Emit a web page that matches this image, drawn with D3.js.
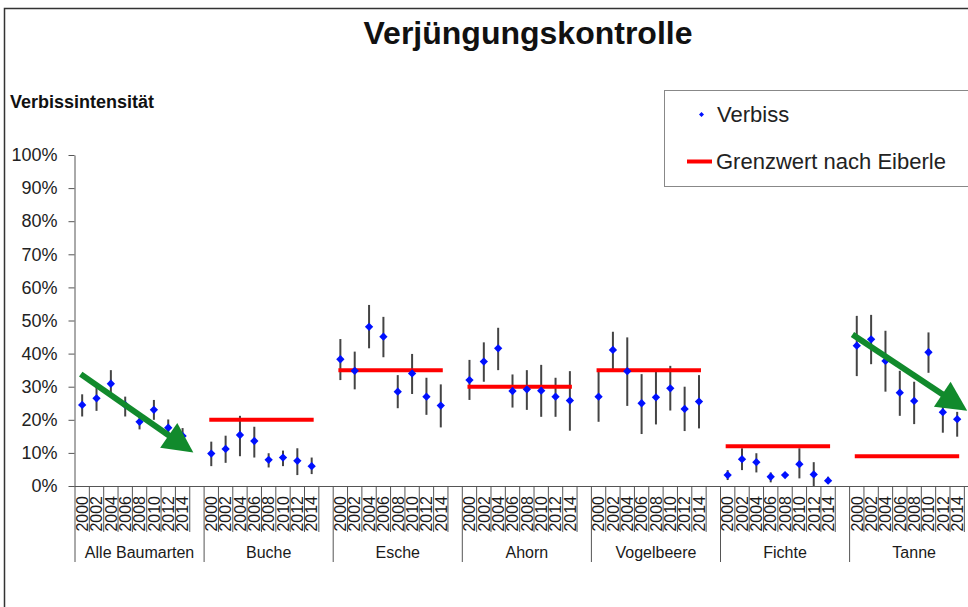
<!DOCTYPE html>
<html>
<head>
<meta charset="utf-8">
<script src="https://cdn.jsdelivr.net/npm/d3@7"></script>
<style>
  body { margin: 0; background: #fff; }
  svg { display: block; font-family: "Liberation Sans", Arial, sans-serif; }
</style>
</head>
<body>
<div id="chart-container"></div>
<script>
// Baumarten und Aufnahmejahre
const groups = ["Alle Baumarten", "Buche", "Esche", "Ahorn", "Vogelbeere", "Fichte", "Tanne"];
const years = ["2000", "2002", "2004", "2006", "2008", "2010", "2012", "2014"];

// Verbissprozent je Baumart (Mittelwert, obere / untere Grenze)
const verbiss = [
  [24.5, 26.5, 30.9, 24.5, 19.4, 23.0, 17.6, 15.1],
  [9.8, 11.2, 15.4, 13.6, 7.9, 8.6, 7.6, 6.0],
  [38.3, 34.8, 48.1, 45.1, 28.5, 34.0, 27.0, 24.3],
  [32.0, 37.6, 41.6, 28.7, 29.2, 28.8, 27.0, 25.8],
  [27.0, 41.1, 34.7, 25.0, 26.8, 29.5, 23.3, 25.5],
  [3.3, 8.1, 7.2, 2.8, 3.3, 6.6, 3.5, 1.6],
  [42.4, 44.3, 37.8, 28.2, 25.7, 40.4, 22.3, 20.2]
];
const upper = [
  [27.7, 30.0, 35.0, 27.0, 21.4, 26.0, 20.1, 17.5],
  [13.4, 15.2, 21.2, 17.9, 9.9, 10.7, 11.4, 8.6],
  [44.4, 40.6, 54.7, 51.1, 33.5, 39.9, 32.7, 30.7],
  [38.1, 43.4, 47.8, 33.7, 35.0, 36.6, 32.7, 34.7],
  [34.8, 46.6, 44.9, 33.8, 34.5, 36.3, 30.0, 33.5],
  [4.8, 11.4, 9.9, 4.1, 4.0, 11.4, 7.2, 2.8],
  [51.4, 51.7, 46.9, 34.8, 31.5, 46.4, 28.5, 22.4]
];
const lower = [
  [21.0, 22.7, 28.0, 21.0, 17.1, 20.0, 15.4, 13.3],
  [6.0, 7.0, 9.0, 8.6, 5.6, 6.0, 3.3, 3.6],
  [32.0, 29.2, 41.6, 38.9, 23.5, 27.8, 21.5, 17.7],
  [26.0, 31.5, 35.0, 23.7, 23.0, 20.9, 20.9, 16.7],
  [19.4, 35.0, 24.2, 15.7, 18.6, 22.8, 16.6, 17.4],
  [1.8, 4.8, 4.1, 1.1, 2.6, 2.3, 0.0, 0.6],
  [33.2, 36.8, 28.5, 21.2, 18.7, 34.2, 16.1, 14.9]
];
// Grenzwert nach Eiberle (keiner fuer "Alle Baumarten")
const grenzwert = [null, 20, 35, 30, 35, 12, 9];

const yTicks = [0, 10, 20, 30, 40, 50, 60, 70, 80, 90, 100];

// Trendpfeile: Baumart, Start/Ende als [Position im Jahresraster, Prozent]
const trendArrows = [
  { group: "Alle Baumarten", from: [-0.1, 33.8], to: [7.75, 10.1] },
  { group: "Tanne", from: [-0.3, 45.8], to: [7.7, 22.7] }
];

const W = 968, H = 607;
const svg = d3.select("#chart-container").append("svg").attr("width", W).attr("height", H);

// Rahmen (rechts und unten abgeschnitten)
svg.append("path").attr("d", "M4.5,607V8.5H968").attr("fill", "none")
  .attr("stroke", "#333").attr("stroke-width", 1.5);

const slotCount = years.length + 1;
const xGroup = d3.scaleBand().domain(groups).range([75, 75 + groups.length * 129.1]);
const xSlot = d3.scaleLinear().domain([0, slotCount]).range([0, xGroup.bandwidth()]);
const slotW = xSlot(1) - xSlot(0);
const xPos = (g, i) => xGroup(g) + xSlot(i) + slotW / 2;
const y = d3.scaleLinear().domain([0, 100]).range([486, 155]);

// Titel
svg.append("text").attr("x", 528).attr("y", 44).attr("text-anchor", "middle")
  .attr("font-size", 32).attr("font-weight", "bold").attr("fill", "#111")
  .text("Verjüngungskontrolle");
svg.append("text").attr("x", 10).attr("y", 108)
  .attr("font-size", 18).attr("font-weight", "bold").attr("fill", "#111")
  .text("Verbissintensität");

// y-Achse
const yAxis = svg.append("g").attr("transform", "translate(74.5,0)")
  .call(d3.axisLeft(y).tickValues(yTicks).tickFormat(d => d + "%")
    .tickSize(6).tickSizeOuter(0).tickPadding(11));
yAxis.select(".domain").attr("stroke", "#555");
yAxis.selectAll(".tick line").attr("stroke", "#555");
yAxis.selectAll(".tick text").attr("font-size", 18).attr("fill", "#222")
  .attr("font-family", "Liberation Sans, Arial, sans-serif");

// x-Achse mit Kategorien
const xAxis = svg.append("g").attr("stroke", "#555").attr("stroke-width", 1);
xAxis.append("line").attr("x1", 74.5).attr("x2", W).attr("y1", 486.5).attr("y2", 486.5);
groups.forEach(g => {
  xAxis.append("line").attr("x1", xGroup(g)).attr("x2", xGroup(g))
    .attr("y1", 486).attr("y2", 562);
  d3.range(1, slotCount).forEach(i => {
    const xx = xGroup(g) + xSlot(i);
    xAxis.append("line").attr("x1", xx).attr("x2", xx).attr("y1", 486).attr("y2", 532);
  });
});
xAxis.append("line").attr("x1", xGroup.range()[1]).attr("x2", xGroup.range()[1])
  .attr("y1", 486).attr("y2", 562);

const labels = svg.append("g").attr("fill", "#1a1a1a");
groups.forEach(g => {
  years.forEach((yr, i) => {
    labels.append("text")
      .attr("transform", `translate(${xPos(g, i)},496) rotate(-90)`)
      .attr("text-anchor", "end").attr("dy", "0.36em")
      .attr("font-size", 16).text(yr);
  });
  labels.append("text").attr("x", xGroup(g) + xGroup.bandwidth() / 2).attr("y", 558)
    .attr("text-anchor", "middle").attr("font-size", 16).text(g);
});

// Fehlerbalken
const bars = svg.append("g").attr("stroke", "#444").attr("stroke-width", 2);
groups.forEach((g, gi) => {
  years.forEach((yr, i) => {
    bars.append("line").attr("x1", xPos(g, i)).attr("x2", xPos(g, i))
      .attr("y1", y(upper[gi][i])).attr("y2", y(lower[gi][i]));
  });
});

// Grenzwertlinien
const limits = svg.append("g").attr("stroke", "#f00").attr("stroke-width", 4)
  .attr("stroke-linecap", "square");
groups.forEach((g, gi) => {
  if (grenzwert[gi] == null) return;
  limits.append("line").attr("x1", xPos(g, 0)).attr("x2", xPos(g, years.length - 1))
    .attr("y1", y(grenzwert[gi])).attr("y2", y(grenzwert[gi]));
});

// Verbiss-Punkte
const diamond = d3.symbol(d3.symbolDiamond2, 44);
const pts = svg.append("g").attr("fill", "#0010ff");
groups.forEach((g, gi) => {
  verbiss[gi].forEach((v, i) => {
    pts.append("path").attr("d", diamond())
      .attr("transform", `translate(${xPos(g, i)},${y(v)})`);
  });
});

// Trendpfeile
const arrowG = svg.append("g").attr("fill", "#118a2c").attr("stroke", "#118a2c");
trendArrows.forEach(a => {
  const x0 = xPos(a.group, a.from[0]), y0 = y(a.from[1]);
  const x1 = xPos(a.group, a.to[0]), y1 = y(a.to[1]);
  const len = Math.hypot(x1 - x0, y1 - y0);
  const ux = (x1 - x0) / len, uy = (y1 - y0) / len;
  const headL = 30, headW = 15;
  const bx = x1 - ux * headL, by = y1 - uy * headL;
  arrowG.append("line").attr("x1", x0).attr("y1", y0).attr("x2", bx + ux * 2).attr("y2", by + uy * 2)
    .attr("stroke-width", 6);
  arrowG.append("path").attr("stroke", "none")
    .attr("d", `M${x1},${y1}L${bx - uy * headW},${by + ux * headW}L${bx + uy * headW},${by - ux * headW}Z`);
});

// Legende
const legend = svg.append("g");
legend.append("rect").attr("x", 664.5).attr("y", 90.5).attr("width", 340).attr("height", 96)
  .attr("fill", "#fff").attr("stroke", "#888");
legend.append("path").attr("d", d3.symbol(d3.symbolDiamond2, 16)())
  .attr("transform", "translate(701.5,114.5)").attr("fill", "#0010ff");
legend.append("text").attr("x", 717).attr("y", 122).attr("font-size", 22).attr("fill", "#222")
  .text("Verbiss");
legend.append("line").attr("x1", 687).attr("x2", 712).attr("y1", 161.5).attr("y2", 161.5)
  .attr("stroke", "#f00").attr("stroke-width", 4);
legend.append("text").attr("x", 716).attr("y", 169).attr("font-size", 22).attr("fill", "#222")
  .text("Grenzwert nach Eiberle");
</script>
</body>
</html>
